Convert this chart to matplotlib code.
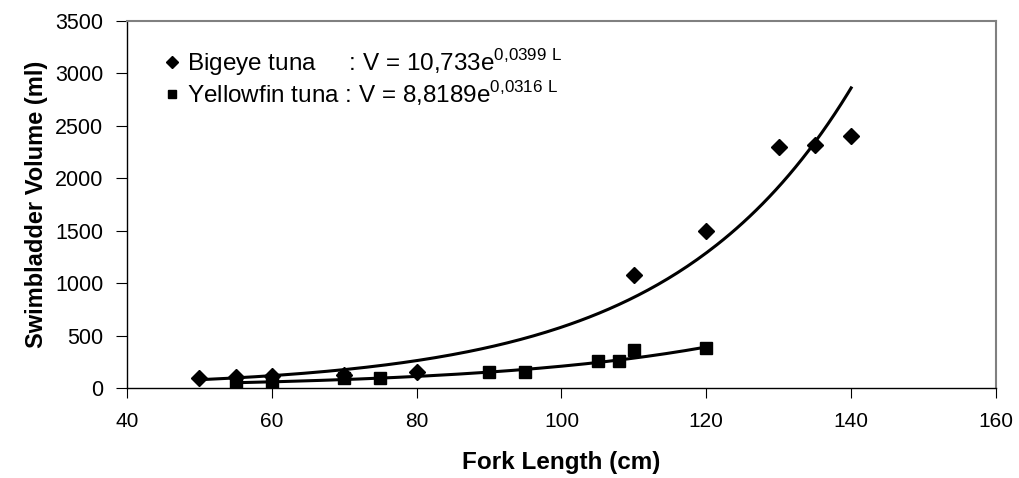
import matplotlib.pyplot as plt
import numpy as np

plt.rcParams['font.family'] = ['Liberation Sans', 'DejaVu Sans']
plt.rcParams['mathtext.fontset'] = 'custom'
plt.rcParams['mathtext.rm'] = 'Liberation Sans'

# Bigeye tuna
bet_fl = [50, 55, 60, 70, 80, 110, 120, 130, 135, 140]
bet_v = [95, 105, 110, 125, 150, 1080, 1500, 2300, 2320, 2400]
# Yellowfin tuna
yft_fl = [55, 60, 70, 75, 90, 95, 105, 108, 110, 120]
yft_v = [55, 55, 95, 100, 155, 155, 255, 255, 360, 380]

# trend line coefficients (V = a * exp(b * L)) as given in the chart
bet_a, bet_b = 10.733, 0.0399
yft_a, yft_b = 8.8189, 0.0316

xticks = [40, 60, 80, 100, 120, 140, 160]
yticks = [0, 500, 1000, 1500, 2000, 2500, 3000, 3500]

fig = plt.figure(figsize=(10.19, 4.78), dpi=100)
ax = fig.add_axes([0.1246, 0.1883, 0.8528, 0.7677])

# trend lines
L1 = np.linspace(min(bet_fl), max(bet_fl), 200)
L2 = np.linspace(min(yft_fl), max(yft_fl), 200)
ax.plot(L1, bet_a * np.exp(bet_b * L1), color='black', linewidth=2.2, zorder=2)
ax.plot(L2, yft_a * np.exp(yft_b * L2), color='black', linewidth=2.2, zorder=2)

h1, = ax.plot(bet_fl, bet_v, linestyle='none', marker='D', markersize=8,
              color='black', zorder=3)
h2, = ax.plot(yft_fl, yft_v, linestyle='none', marker='s', markersize=8.5,
              color='black', zorder=3)

lab1 = r'Bigeye tuna     : V = 10,733e$^{\mathregular{0{,}0399\ L}}$'
lab2 = r'Yellowfin tuna : V = 8,8189e$^{\mathregular{0{,}0316\ L}}$'
leg = ax.legend([h1, h2], [lab1, lab2], loc='upper left', frameon=False,
                fontsize=17.5, handlelength=0.6, handletextpad=0.3,
                borderpad=0, borderaxespad=0, markerscale=0.75,
                bbox_to_anchor=(0.044, 0.93), labelspacing=0.05)

ax.set_xlim(40, 160)
ax.set_ylim(0, 3500)
ax.set_xticks(xticks)
ax.set_yticks(yticks)
ax.tick_params(axis='y', direction='out', length=8, labelsize=15.5, pad=9)
ax.tick_params(axis='x', direction='out', length=7, labelsize=15, pad=10)

for s in ['top', 'right']:
    ax.spines[s].set_color('#808080')
    ax.spines[s].set_linewidth(1.5)
for s in ['left', 'bottom']:
    ax.spines[s].set_color('black')
    ax.spines[s].set_linewidth(1.0)

ax.set_xlabel('Fork Length (cm)', fontsize=17.5, fontweight='bold', labelpad=15)
ax.set_ylabel('Swimbladder Volume (ml)', fontsize=17, fontweight='bold', labelpad=5)

fig.savefig('out.png', dpi=100)
